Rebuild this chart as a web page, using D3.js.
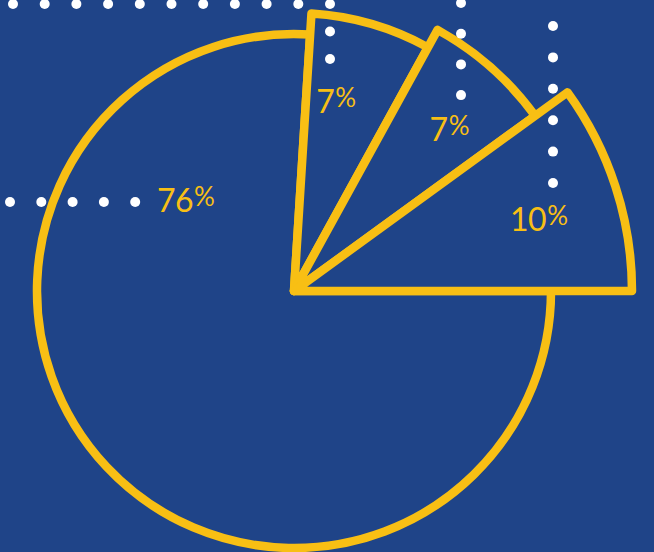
<!DOCTYPE html>
<html>
<head>
<meta charset="utf-8">
<script src="https://cdn.jsdelivr.net/npm/d3@7"></script>
<style>
  html, body { margin: 0; padding: 0; background: #1f4488; }
  svg { display: block; }
</style>
</head>
<body>
<script>
// slice order: the three raised slices first, then the rest of the circle
const labels = ['7%', '7%', '10%', '76%'];
const shares = [7, 7, 10, 76];

const width = 654, height = 552;
const cx = 294, cy = 291;
const baseR = 257;
const blue = '#1f4488', yellow = '#f8bf14';
const deg = Math.PI / 180;

// outer radius of each slice (the small ones stick out of the circle)
const outerR = [278, 298, 338, baseR];
// where each label sits: radius and turn from the slice middle (degrees)
const labelAt = [{r: 194, da: -3.7}, {r: 224, da: 2.5}, {r: 255, da: 1.7}, {r: 141, da: 83}];

const svg = d3.select('body').append('svg')
    .attr('width', width)
    .attr('height', height);

svg.append('rect')
    .attr('width', width)
    .attr('height', height)
    .attr('fill', blue);

// last raised slice ends flat at 3 o'clock
const total = d3.sum(shares);
const raised = d3.sum(shares.slice(0, 3));
const start = Math.PI / 2 - 2 * Math.PI * raised / total;

const pie = d3.pie()
    .sort(null)
    .startAngle(start)
    .endAngle(start + 2 * Math.PI);

const arcs = pie(shares);
const arc = d3.arc().innerRadius(0);

const body = svg.append('g')
    .attr('transform', 'translate(' + cx + ',' + cy + ')');

// big slice behind, then the raised ones in order
const order = [3, 0, 1, 2];
body.selectAll('path.slice')
    .data(order.map(i => ({a: arcs[i], i: i})))
    .join('path')
    .attr('class', 'slice')
    .attr('d', d => arc.outerRadius(outerR[d.i])(d.a))
    .attr('fill', blue)
    .attr('stroke', yellow)
    .attr('stroke-width', 8.5)
    .attr('stroke-linejoin', 'round');

// labels
const capH = 23;
const txt = body.selectAll('text.label')
    .data(arcs)
    .join('text')
    .attr('class', 'label')
    .attr('text-anchor', 'middle')
    .attr('font-family', 'Lato, "Open Sans", sans-serif')
    .attr('font-size', 32)
    .attr('letter-spacing', -0.5)
    .attr('fill', yellow)
    .attr('transform', (d, i) => {
        const m = (d.startAngle + d.endAngle) / 2 + labelAt[i].da * deg;
        const x = Math.sin(m) * labelAt[i].r;
        const y = -Math.cos(m) * labelAt[i].r + capH / 2;
        return 'translate(' + x + ',' + y + ')';
    });

txt.append('tspan')
    .text((d, i) => labels[i].replace('%', ''));
txt.append('tspan')
    .attr('font-size', 26)
    .attr('dx', 1)
    .attr('dy', -6)
    .text('%');

// white dot trails
const dots = [];
for (let i = 0; i < 11; i++) dots.push([13 + i * 31.7, 4]);
for (let i = 1; i < 3; i++) dots.push([330, 4 + i * 27.5]);
for (let i = 0; i < 4; i++) dots.push([461, 3 + i * 30.7]);
for (let i = 0; i < 6; i++) dots.push([553, 26 + i * 31.4]);
for (let i = 0; i < 5; i++) dots.push([10 + i * 31.3, 202]);

svg.append('g')
    .selectAll('circle')
    .data(dots)
    .join('circle')
    .attr('cx', d => d[0])
    .attr('cy', d => d[1])
    .attr('r', 5)
    .attr('fill', '#ffffff');
</script>
</body>
</html>
